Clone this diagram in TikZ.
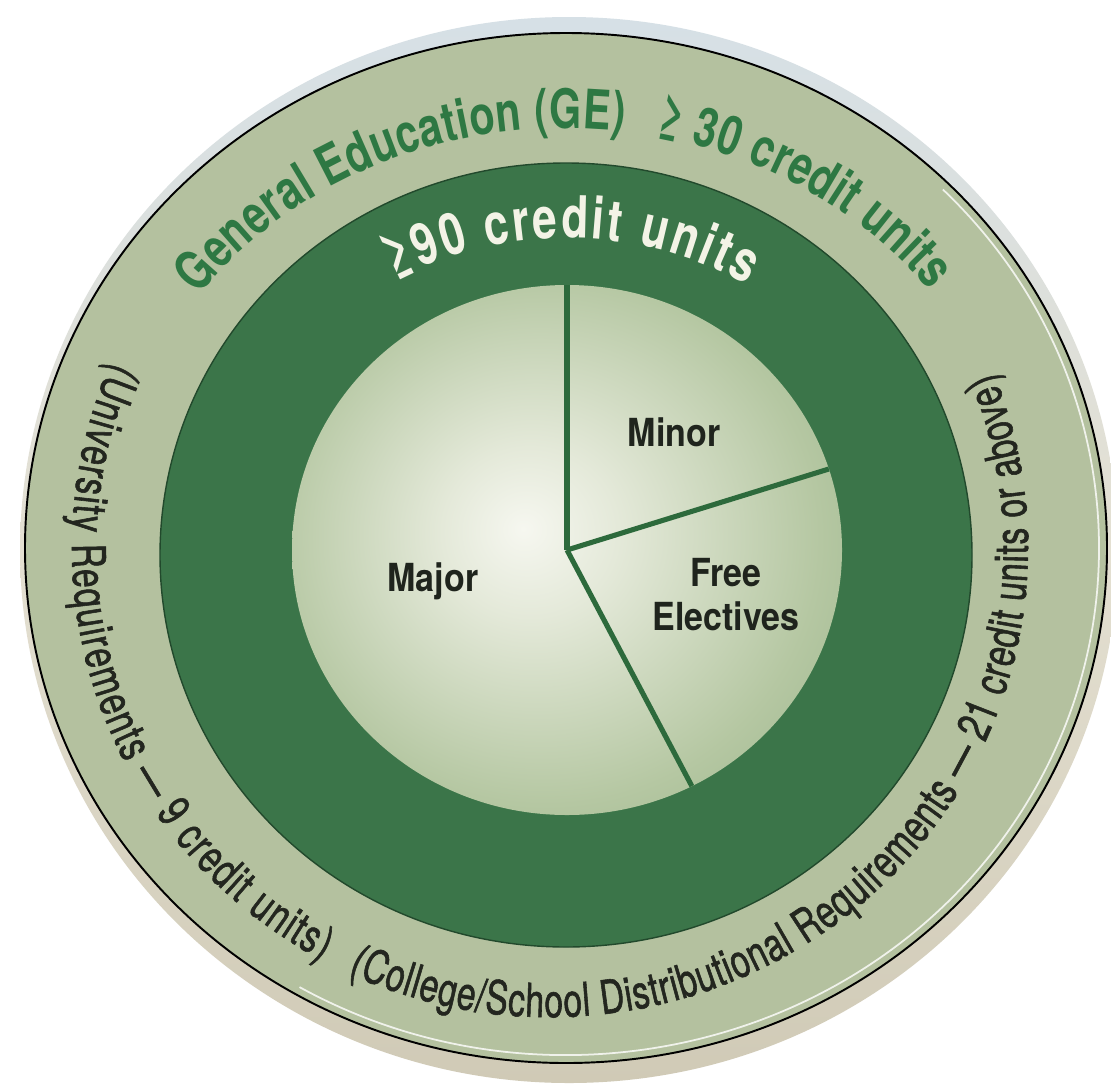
\documentclass[tikz,border=0pt]{standalone}
\usepackage{fontspec}
\usepackage{tikz}
\usetikzlibrary{decorations.text}

\definecolor{sage}{HTML}{B4C19F}
\definecolor{deepgreen}{HTML}{3B7549}
\definecolor{deepedge}{HTML}{22492C}
\definecolor{gegreen}{HTML}{2E7843}
\definecolor{spokegreen}{HTML}{2D6A3C}
\definecolor{labelink}{HTML}{1F241D}
\definecolor{noteink}{HTML}{23261F}
\definecolor{unitink}{HTML}{F3F3E6}
\definecolor{haloblue}{HTML}{D6E0E6}
\definecolor{halomid}{HTML}{E4E0D2}
\definecolor{halobeige}{HTML}{D0CAB6}
\definecolor{glowcore}{HTML}{F6F7F0}
\definecolor{glowa}{HTML}{E4E9D9}
\definecolor{glowb}{HTML}{B5C7A2}
\definecolor{glowc}{HTML}{8BAA80}
\definecolor{glowedge}{HTML}{76996D}

\newfontfamily\ringsans[FakeStretch=0.76]{TeX Gyre Heros}
\newfontfamily\notesans[FakeStretch=0.72,FakeBold=1.2]{TeX Gyre Heros}
\newfontfamily\slicesans[FakeStretch=0.88]{TeX Gyre Heros}
\newcommand\gefont{\ringsans\bfseries\fontsize{31}{32}\selectfont}
\newcommand\unitfont{\ringsans\bfseries\fontsize{33}{34}\selectfont}
\newcommand\notefont{\notesans\fontsize{26.5}{27}\selectfont}

\pgfdeclareradialshading{glow}{\pgfpoint{-4bp}{2bp}}{color(0bp)=(glowcore); color(8bp)=(glowa); color(25bp)=(glowb); color(42bp)=(glowc); color(50bp)=(glowedge)}

\tikzset{
  ringtext/.style={decorate, decoration={text along path, text align={fit to path}, text={#1}}},
  spoke/.style={draw=spokegreen, line width=2.9pt},
  slice/.style={font=\slicesans\bfseries\fontsize{22}{25}\selectfont, text=labelink, align=center},
}

\begin{document}
\begin{tikzpicture}[x=0.02cm, y=0.02cm]
  \useasboundingbox (0,0) rectangle (1111,-1085);
  \fill[white] (0,0) rectangle (1111,-1085);

  % centres
  \coordinate (haloC) at (569,-550);
  \coordinate (outerC) at (566,-548);
  \coordinate (deepC) at (566,-555);
  \coordinate (hub) at (567,-550);
  \coordinate (geC) at (566,-548);
  \coordinate (unitC) at (566,-556);
  \coordinate (noteC) at (550,-548);

  % rings
  \shade[top color=haloblue, bottom color=halobeige, middle color=halomid] (haloC) ellipse[x radius=549, y radius=533];
  \filldraw[fill=sage, draw=black, line width=1.1pt] (outerC) ellipse[x radius=541, y radius=515];
  \draw[white, opacity=0.8, line width=1pt] ([shift={(-120:533 and 507)}]outerC) arc[start angle=-120, end angle=45, x radius=533, y radius=507];
  \filldraw[fill=deepgreen, draw=deepedge, line width=0.8pt] (deepC) ellipse[x radius=406, y radius=392];
  \shade[shading=glow] (hub) ellipse[x radius=275, y radius=265];

  % spokes
  \coordinate (rimTop) at ([shift={(90:275 and 265)}]hub);
  \coordinate (rimRight) at ([shift={(17.8:275 and 265)}]hub);
  \coordinate (rimLow) at ([shift={(-63:275 and 265)}]hub);
  \draw[spoke] (hub) -- (rimTop);
  \draw[spoke] (hub) -- (rimRight);
  \draw[spoke] (hub) -- (rimLow);

  % slices
  \node[slice] (major) at (433,-581) {Major};
  \node[slice] (minor) at (674,-432) {Minor};
  \node[slice] (electives) at (726,-595) {Free\\Electives};

  % curved texts
  \path[ringtext={|\gefont\color{gegreen}|General Education (GE)}] ([shift={(143:460 and 420)}]geC) arc[start angle=143, end angle=82.8, x radius=460, y radius=420];
  \path[ringtext={|\gefont\color{gegreen}|≥ 30 credit units}] ([shift={(78.8:460 and 420)}]geC) arc[start angle=78.8, end angle=37.7, x radius=460, y radius=420];
  \path[ringtext={|\unitfont\color{unitink}|≥90 credit units}] ([shift={(119.7:345 and 318)}]unitC) arc[start angle=119.7, end angle=58.4, x radius=345, y radius=318];
  \path[ringtext={|\notefont\color{noteink}|(University Requirements — 9 credit units)}] ([shift={(156.6:478 and 469)}]noteC) arc[start angle=156.6, end angle=241.5, x radius=478, y radius=469];
  \path[ringtext={|\notefont\color{noteink}|(College/School Distributional Requirements — 21 credit units or above)}] ([shift={(245:478 and 469)}]noteC) arc[start angle=245, end angle=382, x radius=478, y radius=469];
\end{tikzpicture}
\end{document}
